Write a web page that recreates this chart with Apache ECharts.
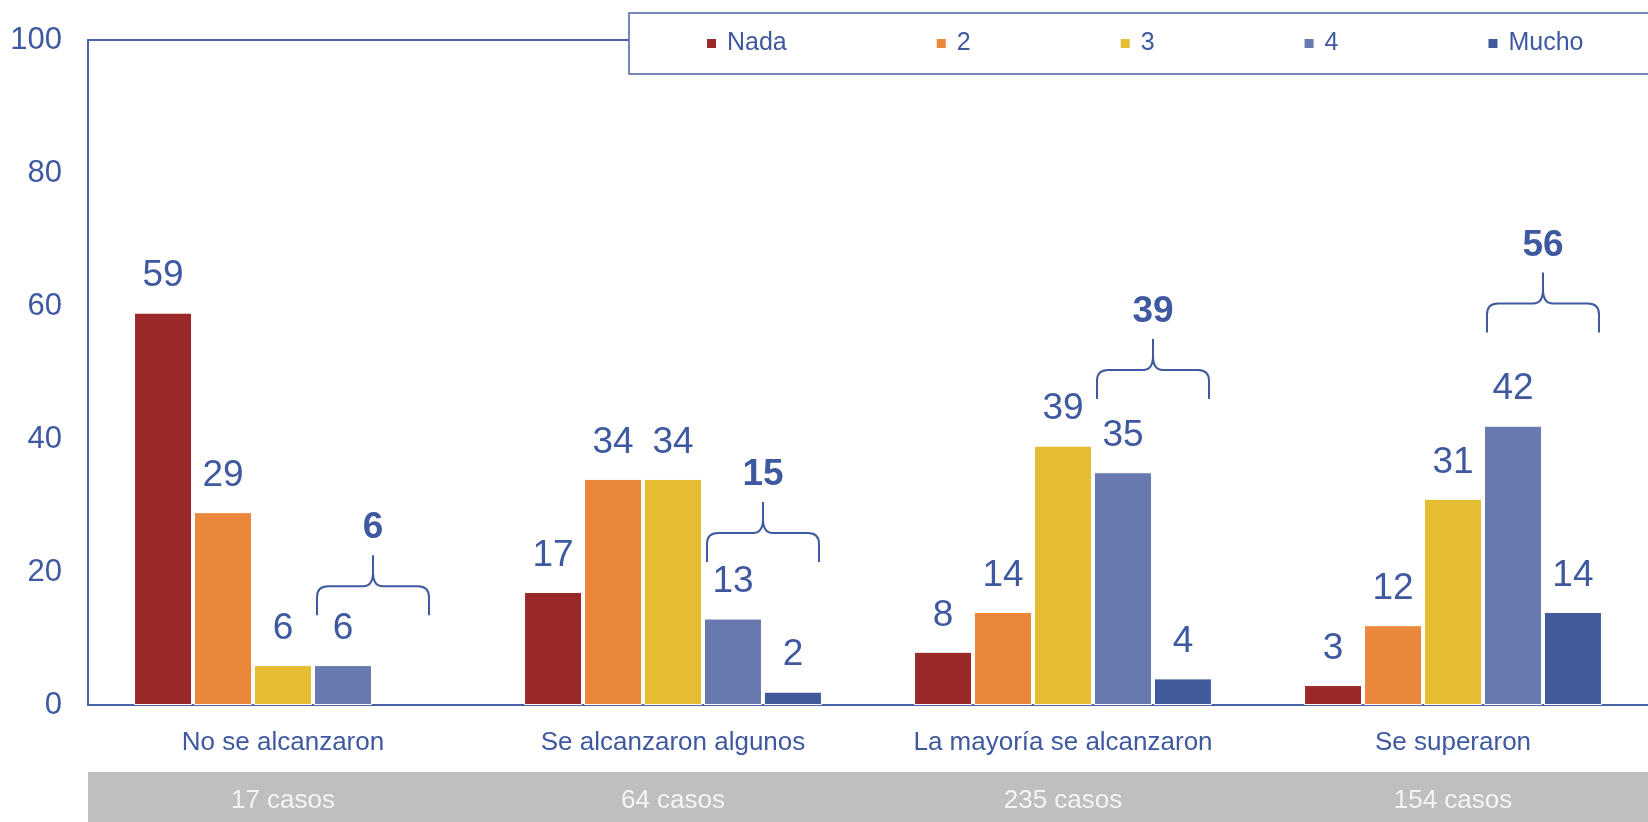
<!DOCTYPE html>
<html>
<head>
<meta charset="utf-8">
<script src="https://cdn.jsdelivr.net/npm/echarts@6/dist/echarts.min.js"></script>
<style>
  html, body { margin: 0; padding: 0; background: #ffffff; }
  #chart { width: 1648px; height: 822px; }
</style>
</head>
<body>
<div id="chart"></div>
<script>
// Categories and case counts
var categories = ['No se alcanzaron', 'Se alcanzaron algunos', 'La mayoría se alcanzaron', 'Se superaron'];
var casos = ['17 casos', '64 casos', '235 casos', '154 casos'];

// Percentages per answer level
var nada   = [59, 17, 8, 3];
var dos    = [29, 34, 14, 12];
var tres   = [6, 34, 39, 31];
var cuatro = [6, 13, 35, 42];
var mucho  = [0, 2, 4, 14];

// Level (in % units) where each bracket over "4 + Mucho" sits
var bracketLevel = [13.5, 21.5, 46, 56];

var yTicks = { min: 0, max: 100, interval: 20 };

// Styling
var FONT = "'Liberation Sans', Arial, sans-serif";
var TEXT = '#3F59A0';
var AXIS = '#4A63A8';
var BAR_W = 58;
var BAR_GAP = 2;
var seriesDefs = [
  { name: 'Nada',  data: nada,   color: '#9B2929' },
  { name: '2',     data: dos,    color: '#EB873A' },
  { name: '3',     data: tres,   color: '#E5BD33' },
  { name: '4',     data: cuatro, color: '#6879AF' },
  { name: 'Mucho', data: mucho,  color: '#405A9C' }
];

// Sum of the two top levels, shown above the brackets
var topTwo = cuatro.map(function (v, i) { return v + mucho[i]; });

var barSeries = seriesDefs.map(function (s) {
  return {
    name: s.name,
    type: 'bar',
    xAxisIndex: 0,
    yAxisIndex: 0,
    barWidth: BAR_W,
    barGap: (BAR_GAP / BAR_W * 100).toFixed(1) + '%',
    // zero-height bars get no outline so the axis line stays continuous
    data: s.data.map(function (v) {
      return v === 0 ? { value: v, itemStyle: { borderWidth: 0 } } : v;
    }),
    itemStyle: { color: s.color, borderColor: '#ffffff', borderWidth: 1 },
    label: {
      show: true,
      position: 'top',
      distance: 18,
      fontFamily: FONT,
      fontSize: 37,
      color: TEXT,
      formatter: function (p) { return p.value === 0 ? '' : String(p.value); }
    },
    emphasis: { disabled: true }
  };
});

var bracketSeries = {
  type: 'custom',
  xAxisIndex: 0,
  yAxisIndex: 0,
  silent: true,
  z: 5,
  encode: { x: 0, y: 1 },
  data: categories.map(function (c, i) { return [i, bracketLevel[i], topTwo[i]]; }),
  renderItem: function (params, api) {
    var c = api.coord([api.value(0), api.value(1)]);
    var total = 5 * BAR_W + 4 * BAR_GAP;
    var xL = c[0] - total / 2 + 3 * (BAR_W + BAR_GAP) + 3;
    var xR = c[0] + total / 2 - 3;
    var xc = (xL + xR) / 2;
    var yB = c[1];
    var yH = yB - 29;
    var yP = yH - 31;
    var r = 11, r2 = 10;
    var path =
      'M' + xL + ',' + yB +
      'L' + xL + ',' + (yH + r) +
      'Q' + xL + ',' + yH + ',' + (xL + r) + ',' + yH +
      'L' + (xc - r2) + ',' + yH +
      'Q' + xc + ',' + yH + ',' + xc + ',' + (yH - 14) +
      'L' + xc + ',' + yP +
      'M' + xc + ',' + (yH - 14) +
      'Q' + xc + ',' + yH + ',' + (xc + r2) + ',' + yH +
      'L' + (xR - r) + ',' + yH +
      'Q' + xR + ',' + yH + ',' + xR + ',' + (yH + r) +
      'L' + xR + ',' + yB;
    return {
      type: 'group',
      children: [
        {
          type: 'path',
          shape: { pathData: path },
          style: { fill: 'none', stroke: '#3F5A9E', lineWidth: 2 }
        },
        {
          type: 'text',
          x: xc,
          y: yP - 27,
          style: {
            text: String(api.value(2)),
            font: 'bold 37px ' + FONT,
            fill: TEXT,
            align: 'center',
            verticalAlign: 'middle'
          }
        }
      ]
    };
  }
};

var chart = echarts.init(document.getElementById('chart'), null, { renderer: 'canvas' });

chart.setOption({
  animation: false,
  backgroundColor: '#ffffff',
  textStyle: { fontFamily: FONT },
  legend: {
    data: seriesDefs.map(function (s) { return s.name; }),
    orient: 'horizontal',
    left: 629,
    top: 13,
    width: 1400,
    padding: [18, 120, 18, 76],
    backgroundColor: '#ffffff',
    borderColor: AXIS,
    borderWidth: 1.5,
    itemGap: 148,
    itemWidth: 11,
    itemHeight: 11,
    icon: 'rect',
    textStyle: { fontFamily: FONT, fontSize: 25, color: TEXT, padding: [0, 0, 0, 5] },
    selectedMode: false
  },
  grid: [
    { left: 88, right: 0, top: 40, bottom: 117, containLabel: false },
    { left: 88, right: 0, top: 772, height: 50, show: true, backgroundColor: '#BFBFBF', borderWidth: 0 }
  ],
  xAxis: [
    {
      type: 'category',
      gridIndex: 0,
      data: categories,
      position: 'bottom',
      axisLine: { show: true, lineStyle: { color: AXIS, width: 2 } },
      axisTick: { show: false },
      axisLabel: { fontFamily: FONT, fontSize: 26, color: TEXT, margin: 25, interval: 0 },
      splitLine: { show: false }
    },
    {
      type: 'category',
      gridIndex: 0,
      data: categories,
      position: 'top',
      axisLine: { show: true, lineStyle: { color: AXIS, width: 2 } },
      axisTick: { show: false },
      axisLabel: { show: false },
      splitLine: { show: false }
    },
    {
      type: 'category',
      gridIndex: 1,
      data: casos,
      position: 'top',
      axisLine: { show: false },
      axisTick: { show: false },
      axisLabel: { inside: true, margin: 16, fontFamily: FONT, fontSize: 26, color: '#F4F4F4', interval: 0 },
      splitLine: { show: false }
    }
  ],
  yAxis: [
    {
      type: 'value',
      gridIndex: 0,
      min: yTicks.min,
      max: yTicks.max,
      interval: yTicks.interval,
      axisLine: { show: true, lineStyle: { color: AXIS, width: 2 } },
      axisTick: { show: false },
      splitLine: { show: false },
      axisLabel: { fontFamily: FONT, fontSize: 31, color: TEXT, margin: 26 }
    },
    {
      type: 'value',
      gridIndex: 1,
      show: false
    }
  ],
  series: barSeries.concat([bracketSeries])
});
</script>
</body>
</html>
